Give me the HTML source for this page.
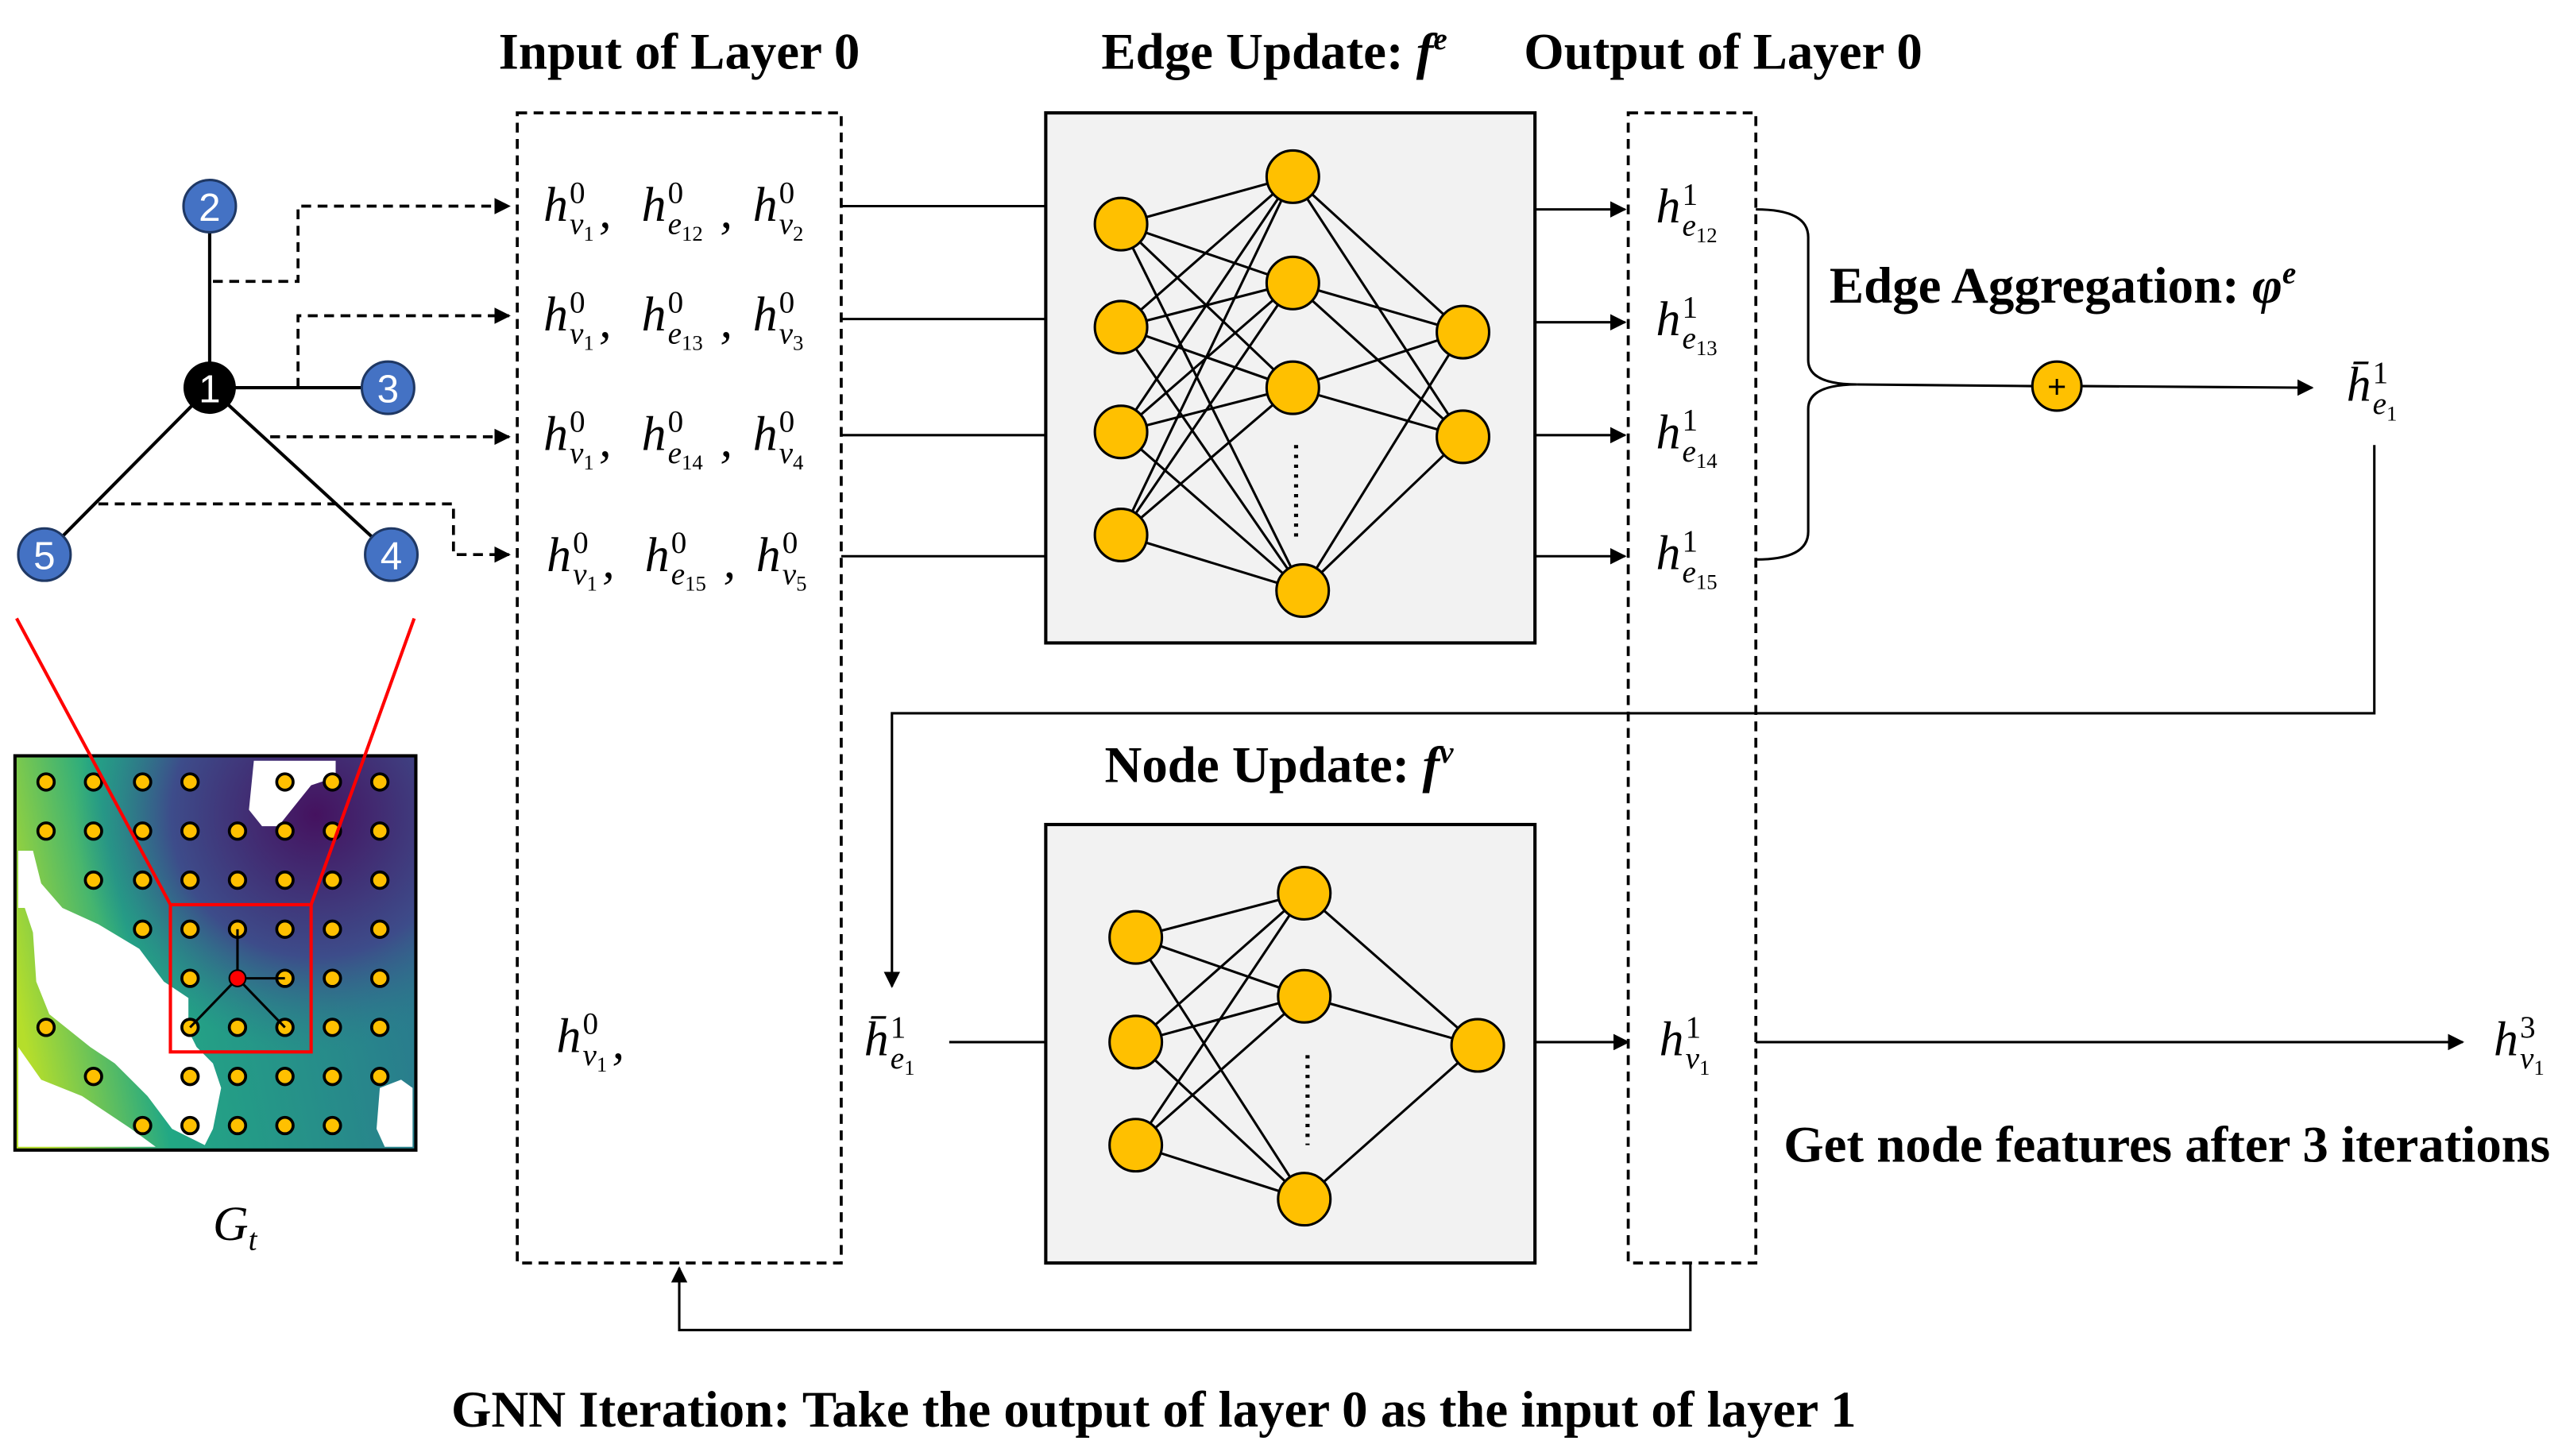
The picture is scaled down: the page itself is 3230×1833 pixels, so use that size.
<!DOCTYPE html>
<html><head><meta charset="utf-8"><style>
html,body{margin:0;padding:0;background:#fff;}
svg{display:block;}
.t{font-family:"Liberation Serif",serif;font-weight:bold;font-size:31.5px;}
.m{font-family:"Liberation Serif",serif;font-style:italic;font-size:30px;}
.sp{font-size:19px;font-style:normal;}
.sb{font-size:19px;}
.ss{font-size:13px;font-style:normal;}
.s{font-size:19px;}
</style></head><body>
<svg width="3230" height="1833" viewBox="0 0 1568 890" xmlns="http://www.w3.org/2000/svg">
<defs>
<marker id="a" markerWidth="10" markerHeight="10" refX="9" refY="5" orient="auto" markerUnits="userSpaceOnUse"><path d="M0,0 L10,5 L0,10 z" fill="#000"/></marker>
<radialGradient id="p" cx="0.75" cy="0.15" r="0.6"><stop offset="0" stop-color="#45125f"/><stop offset="0.6" stop-color="#3d4c8a"/><stop offset="1" stop-color="#2c7c8c" stop-opacity="0"/></radialGradient>
<linearGradient id="g" x1="0" y1="0.6" x2="1" y2="0.4"><stop offset="0" stop-color="#b5de2b"/><stop offset="0.3" stop-color="#22a884"/><stop offset="1" stop-color="#2a788e"/></linearGradient>
</defs>
<!-- titles -->
<text class="t" x="415" y="42" text-anchor="middle">Input of Layer 0</text>
<text class="t" x="673" y="42">Edge Update:  <tspan font-style="italic">f<tspan dy="-12" class="s">e</tspan></tspan></text>
<text class="t" x="1053" y="42" text-anchor="middle">Output of Layer 0</text>
<text class="t" x="1118" y="185">Edge Aggregation: <tspan font-style="italic">φ<tspan dy="-12" class="s">e</tspan></tspan></text>
<text class="t" x="675" y="478">Node Update: <tspan font-style="italic">f<tspan dy="-12" class="s">v</tspan></tspan></text>
<text class="t" x="1090" y="710">Get node features after 3 iterations</text>
<text class="t" x="705" y="872" text-anchor="middle">GNN Iteration: Take the output of layer 0 as the input of layer 1</text>

<!-- graph -->
<g stroke="#000" stroke-width="2">
<line x1="128" y1="126" x2="128" y2="237"/><line x1="128" y1="237" x2="237" y2="237"/>
<line x1="128" y1="237" x2="27" y2="339"/><line x1="128" y1="237" x2="239" y2="339"/>
</g>
<g stroke="#000" stroke-width="1.8" fill="none" stroke-dasharray="6,4">
<polyline points="130,172 182,172 182,126 311,126" marker-end="url(#a)"/>
<polyline points="182,237 182,193 311,193" marker-end="url(#a)"/>
<polyline points="165,267 311,267" marker-end="url(#a)"/>
<polyline points="60,308 277,308 277,339 311,339" marker-end="url(#a)"/>
</g>
<g stroke="#1f3864" stroke-width="1.5" fill="#4472c4">
<circle cx="128" cy="126" r="16"/><circle cx="237" cy="237" r="16"/><circle cx="27" cy="339" r="16"/><circle cx="239" cy="339" r="16"/>
</g>
<circle cx="128" cy="237" r="16" fill="#000"/>
<g font-family="Liberation Sans,sans-serif" font-size="24" fill="#fff" text-anchor="middle">
<text x="128" y="135">2</text><text x="128" y="246">1</text><text x="237" y="246">3</text><text x="27" y="348">5</text><text x="239" y="348">4</text>
</g>

<!-- heatmap -->
<rect x="9" y="462" width="245" height="241" fill="url(#g)"/>
<rect x="9" y="462" width="245" height="241" fill="url(#p)"/>
<g fill="#fff">
<path d="M155,465 L205,465 L205,475 L190,480 L170,505 L160,505 L152,495 Z"/>
<path d="M11,520 L20,520 L25,540 L38,555 L60,565 L85,580 L100,600 L115,610 L115,630 L120,640 L130,650 L135,665 L130,690 L125,700 L105,690 L90,670 L80,660 L70,650 L55,640 L40,628 L30,620 L22,600 L20,570 L15,555 L11,555 Z"/>
<path d="M11,640 L25,660 L50,670 L80,690 L95,701 L11,701 Z"/>
<path d="M232,665 L245,660 L252,665 L252,701 L235,701 L230,690 Z"/>
</g>
<rect x="9" y="462" width="245" height="241" fill="none" stroke="#000" stroke-width="2"/>
<g stroke="#000" stroke-width="1.8" fill="#ffc000">
<circle cx="28" cy="478" r="5"/><circle cx="57" cy="478" r="5"/><circle cx="87" cy="478" r="5"/><circle cx="116" cy="478" r="5"/><circle cx="174" cy="478" r="5"/><circle cx="203" cy="478" r="5"/><circle cx="232" cy="478" r="5"/>
<circle cx="28" cy="508" r="5"/><circle cx="57" cy="508" r="5"/><circle cx="87" cy="508" r="5"/><circle cx="116" cy="508" r="5"/><circle cx="145" cy="508" r="5"/><circle cx="174" cy="508" r="5"/><circle cx="203" cy="508" r="5"/><circle cx="232" cy="508" r="5"/>
<circle cx="57" cy="538" r="5"/><circle cx="87" cy="538" r="5"/><circle cx="116" cy="538" r="5"/><circle cx="145" cy="538" r="5"/><circle cx="174" cy="538" r="5"/><circle cx="203" cy="538" r="5"/><circle cx="232" cy="538" r="5"/>
<circle cx="87" cy="568" r="5"/><circle cx="116" cy="568" r="5"/><circle cx="145" cy="568" r="5"/><circle cx="174" cy="568" r="5"/><circle cx="203" cy="568" r="5"/><circle cx="232" cy="568" r="5"/>
<circle cx="116" cy="598" r="5"/><circle cx="174" cy="598" r="5"/><circle cx="203" cy="598" r="5"/><circle cx="232" cy="598" r="5"/>
<circle cx="28" cy="628" r="5"/><circle cx="116" cy="628" r="5"/><circle cx="145" cy="628" r="5"/><circle cx="174" cy="628" r="5"/><circle cx="203" cy="628" r="5"/><circle cx="232" cy="628" r="5"/>
<circle cx="57" cy="658" r="5"/><circle cx="116" cy="658" r="5"/><circle cx="145" cy="658" r="5"/><circle cx="174" cy="658" r="5"/><circle cx="203" cy="658" r="5"/><circle cx="232" cy="658" r="5"/>
<circle cx="87" cy="688" r="5"/><circle cx="116" cy="688" r="5"/><circle cx="145" cy="688" r="5"/><circle cx="174" cy="688" r="5"/><circle cx="203" cy="688" r="5"/>
</g>
<g stroke="#000" stroke-width="1.5"><line x1="145" y1="598" x2="145" y2="568"/><line x1="145" y1="598" x2="174" y2="598"/><line x1="145" y1="598" x2="116" y2="628"/><line x1="145" y1="598" x2="174" y2="628"/></g>
<circle cx="145" cy="598" r="5" fill="#f00" stroke="#000" stroke-width="1"/>
<rect x="104" y="553" width="86" height="90" fill="none" stroke="#f00" stroke-width="2"/>
<line x1="10" y1="378" x2="104" y2="553" stroke="#f00" stroke-width="2"/>
<line x1="253" y1="378" x2="190" y2="553" stroke="#f00" stroke-width="2"/>
<text class="m" x="130" y="758">G<tspan class="sb" dy="6">t</tspan></text>

<!-- dashed boxes -->
<rect x="316" y="69" width="198" height="703" fill="none" stroke="#000" stroke-width="1.8" stroke-dasharray="6,4"/>
<rect x="995" y="69" width="78" height="703" fill="none" stroke="#000" stroke-width="1.8" stroke-dasharray="6,4"/>

<!-- input labels -->
<g class="m">
<!-- row 1 -->
<text x="332" y="135">h</text><text class="sp" x="348" y="124">0</text><text class="sb" x="348" y="143">v<tspan class="ss" dy="4">1</tspan></text><text x="366" y="139">,</text>
<text x="392" y="135">h</text><text class="sp" x="408" y="124">0</text><text class="sb" x="408" y="143">e<tspan class="ss" dy="4">12</tspan></text><text x="440" y="139">,</text>
<text x="460" y="135">h</text><text class="sp" x="476" y="124">0</text><text class="sb" x="476" y="143">v<tspan class="ss" dy="4">2</tspan></text>
<!-- row 2 -->
<text x="332" y="202">h</text><text class="sp" x="348" y="191">0</text><text class="sb" x="348" y="210">v<tspan class="ss" dy="4">1</tspan></text><text x="366" y="206">,</text>
<text x="392" y="202">h</text><text class="sp" x="408" y="191">0</text><text class="sb" x="408" y="210">e<tspan class="ss" dy="4">13</tspan></text><text x="440" y="206">,</text>
<text x="460" y="202">h</text><text class="sp" x="476" y="191">0</text><text class="sb" x="476" y="210">v<tspan class="ss" dy="4">3</tspan></text>
<!-- row 3 -->
<text x="332" y="275">h</text><text class="sp" x="348" y="264">0</text><text class="sb" x="348" y="283">v<tspan class="ss" dy="4">1</tspan></text><text x="366" y="279">,</text>
<text x="392" y="275">h</text><text class="sp" x="408" y="264">0</text><text class="sb" x="408" y="283">e<tspan class="ss" dy="4">14</tspan></text><text x="440" y="279">,</text>
<text x="460" y="275">h</text><text class="sp" x="476" y="264">0</text><text class="sb" x="476" y="283">v<tspan class="ss" dy="4">4</tspan></text>
<!-- row 4 -->
<text x="334" y="349">h</text><text class="sp" x="350" y="338">0</text><text class="sb" x="350" y="357">v<tspan class="ss" dy="4">1</tspan></text><text x="368" y="353">,</text>
<text x="394" y="349">h</text><text class="sp" x="410" y="338">0</text><text class="sb" x="410" y="357">e<tspan class="ss" dy="4">15</tspan></text><text x="442" y="353">,</text>
<text x="462" y="349">h</text><text class="sp" x="478" y="338">0</text><text class="sb" x="478" y="357">v<tspan class="ss" dy="4">5</tspan></text>
<!-- h_v1^0, -->
<text x="340" y="643">h</text><text class="sp" x="356" y="632">0</text><text class="sb" x="356" y="651">v<tspan class="ss" dy="4">1</tspan></text><text x="374" y="647">,</text>
<!-- outputs -->
<text x="1012" y="136">h</text><text class="sp" x="1028" y="125">1</text><text class="sb" x="1028" y="144">e<tspan class="ss" dy="4">12</tspan></text>
<text x="1012" y="205">h</text><text class="sp" x="1028" y="194">1</text><text class="sb" x="1028" y="213">e<tspan class="ss" dy="4">13</tspan></text>
<text x="1012" y="274">h</text><text class="sp" x="1028" y="263">1</text><text class="sb" x="1028" y="282">e<tspan class="ss" dy="4">14</tspan></text>
<text x="1012" y="348">h</text><text class="sp" x="1028" y="337">1</text><text class="sb" x="1028" y="356">e<tspan class="ss" dy="4">15</tspan></text>
<text x="1434" y="245">h̄</text><text class="sp" x="1450" y="234">1</text><text class="sb" x="1450" y="253">e<tspan class="ss" dy="4">1</tspan></text>
<text x="528" y="645">h̄</text><text class="sp" x="544" y="634">1</text><text class="sb" x="544" y="653">e<tspan class="ss" dy="4">1</tspan></text>
<text x="1014" y="645">h</text><text class="sp" x="1030" y="634">1</text><text class="sb" x="1030" y="653">v<tspan class="ss" dy="4">1</tspan></text>
<text x="1524" y="645">h</text><text class="sp" x="1540" y="634">3</text><text class="sb" x="1540" y="653">v<tspan class="ss" dy="4">1</tspan></text>
</g>

<!-- edge update box -->
<rect x="639" y="69" width="299" height="324" fill="#f2f2f2" stroke="#000" stroke-width="2"/>
<g stroke="#000" stroke-width="1.5">
<line x1="514" y1="126" x2="639" y2="126"/><line x1="514" y1="195" x2="639" y2="195"/><line x1="514" y1="266" x2="639" y2="266"/><line x1="514" y1="340" x2="639" y2="340"/>
<line x1="685" y1="137" x2="790" y2="108"/><line x1="685" y1="137" x2="790" y2="173"/><line x1="685" y1="137" x2="790" y2="237"/><line x1="685" y1="137" x2="796" y2="361"/>
<line x1="685" y1="200" x2="790" y2="108"/><line x1="685" y1="200" x2="790" y2="173"/><line x1="685" y1="200" x2="790" y2="237"/><line x1="685" y1="200" x2="796" y2="361"/>
<line x1="685" y1="264" x2="790" y2="108"/><line x1="685" y1="264" x2="790" y2="173"/><line x1="685" y1="264" x2="790" y2="237"/><line x1="685" y1="264" x2="796" y2="361"/>
<line x1="685" y1="327" x2="790" y2="108"/><line x1="685" y1="327" x2="790" y2="173"/><line x1="685" y1="327" x2="790" y2="237"/><line x1="685" y1="327" x2="796" y2="361"/>
<line x1="790" y1="108" x2="894" y2="203"/><line x1="790" y1="108" x2="894" y2="267"/><line x1="790" y1="173" x2="894" y2="203"/><line x1="790" y1="173" x2="894" y2="267"/>
<line x1="790" y1="237" x2="894" y2="203"/><line x1="790" y1="237" x2="894" y2="267"/><line x1="796" y1="361" x2="894" y2="203"/><line x1="796" y1="361" x2="894" y2="267"/>
<line x1="792" y1="272" x2="792" y2="328" stroke-dasharray="2,4" stroke-width="2.5"/>
</g>
<g fill="#ffc000" stroke="#000" stroke-width="1.5">
<circle cx="685" cy="137" r="16"/><circle cx="685" cy="200" r="16"/><circle cx="685" cy="264" r="16"/><circle cx="685" cy="327" r="16"/>
<circle cx="790" cy="108" r="16"/><circle cx="790" cy="173" r="16"/><circle cx="790" cy="237" r="16"/><circle cx="796" cy="361" r="16"/>
<circle cx="894" cy="203" r="16"/><circle cx="894" cy="267" r="16"/>
</g>
<g stroke="#000" stroke-width="1.5" fill="none">
<line x1="938" y1="128" x2="993" y2="128" marker-end="url(#a)"/><line x1="938" y1="197" x2="993" y2="197" marker-end="url(#a)"/>
<line x1="938" y1="266" x2="993" y2="266" marker-end="url(#a)"/><line x1="938" y1="340" x2="993" y2="340" marker-end="url(#a)"/>
<path d="M1073,128 Q1105,128 1105,145 L1105,220 Q1105,235 1135,235 Q1105,235 1105,250 L1105,325 Q1105,342 1073,342"/>
<line x1="1135" y1="235" x2="1242" y2="236"/>
<line x1="1272" y1="236" x2="1413" y2="237" marker-end="url(#a)"/>
<polyline points="1451,272 1451,436 545,436 545,603" marker-end="url(#a)"/>
</g>
<circle cx="1257" cy="236" r="15" fill="#ffc000" stroke="#000" stroke-width="1.5"/>
<text x="1257" y="243" font-family="Liberation Sans,sans-serif" font-size="20" text-anchor="middle">+</text>

<!-- node update box -->
<rect x="639" y="504" width="299" height="268" fill="#f2f2f2" stroke="#000" stroke-width="2"/>
<g stroke="#000" stroke-width="1.5">
<line x1="580" y1="637" x2="639" y2="637"/>
<line x1="694" y1="573" x2="797" y2="546"/><line x1="694" y1="573" x2="797" y2="609"/><line x1="694" y1="573" x2="797" y2="733"/>
<line x1="694" y1="637" x2="797" y2="546"/><line x1="694" y1="637" x2="797" y2="609"/><line x1="694" y1="637" x2="797" y2="733"/>
<line x1="694" y1="700" x2="797" y2="546"/><line x1="694" y1="700" x2="797" y2="609"/><line x1="694" y1="700" x2="797" y2="733"/>
<line x1="797" y1="546" x2="903" y2="639"/><line x1="797" y1="609" x2="903" y2="639"/><line x1="797" y1="733" x2="903" y2="639"/>
<line x1="799" y1="645" x2="799" y2="700" stroke-dasharray="2,4" stroke-width="2.5"/>
</g>
<g fill="#ffc000" stroke="#000" stroke-width="1.5">
<circle cx="694" cy="573" r="16"/><circle cx="694" cy="637" r="16"/><circle cx="694" cy="700" r="16"/>
<circle cx="797" cy="546" r="16"/><circle cx="797" cy="609" r="16"/><circle cx="797" cy="733" r="16"/>
<circle cx="903" cy="639" r="16"/>
</g>
<g stroke="#000" stroke-width="1.5" fill="none">
<line x1="938" y1="637" x2="995" y2="637" marker-end="url(#a)"/>
<line x1="1073" y1="637" x2="1505" y2="637" marker-end="url(#a)"/>
<polyline points="1033,772 1033,813 415,813 415,775" marker-end="url(#a)"/>
</g>
</svg>
</body></html>
